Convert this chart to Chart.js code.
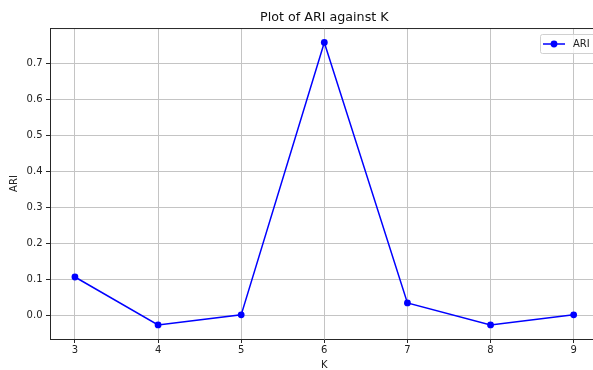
<!DOCTYPE html>
<html>
<head>
<meta charset="utf-8">
<script src="https://cdn.jsdelivr.net/npm/chart.js@4/dist/chart.umd.min.js"></script>
<style>
  html, body { margin: 0; padding: 0; background: #fff; overflow: hidden; }
  #wrap { width: 593px; height: 370px; overflow: hidden; }
</style>
</head>
<body>
<div id="wrap"><canvas id="chart" width="602" height="370"></canvas></div>
<script>
// data
const kValues = [3, 4, 5, 6, 7, 8, 9];
const ariValues = [0.107, -0.026, 0.002, 0.758, 0.035, -0.026, 0.002];
const yTickValues = [0.0, 0.1, 0.2, 0.3, 0.4, 0.5, 0.6, 0.7];

const FONT = "'DejaVu Sans', sans-serif";
const lineColor = "#0000ff";

// top/right spines + boxed legend, matplotlib style
const framePlugin = {
    id: "frame",
    afterDraw(chart) {
        const ctx = chart.ctx;
        const a = chart.chartArea;
        ctx.save();
        ctx.strokeStyle = "#262626";
        ctx.lineWidth = 1;
        ctx.beginPath();
        ctx.moveTo(a.left, a.top + 0.5);
        ctx.lineTo(a.right, a.top + 0.5);
        ctx.moveTo(a.right - 0.5, a.top);
        ctx.lineTo(a.right - 0.5, a.bottom);
        ctx.stroke();

        // legend
        const ds = chart.data.datasets[0];
        const bx = 540.5, by = 34.5, bw = 70, bh = 19;
        ctx.fillStyle = "rgba(255,255,255,0.8)";
        ctx.strokeStyle = "#d0d0d0";
        ctx.beginPath();
        ctx.roundRect(bx, by, bw, bh, 2);
        ctx.fill();
        ctx.stroke();

        const cy = by + bh / 2;
        ctx.strokeStyle = ds.borderColor;
        ctx.lineWidth = 1.5;
        ctx.beginPath();
        ctx.moveTo(543, cy);
        ctx.lineTo(565, cy);
        ctx.stroke();
        ctx.fillStyle = ds.backgroundColor;
        ctx.beginPath();
        ctx.arc(554, cy, 3.4, 0, Math.PI * 2);
        ctx.fill();

        ctx.fillStyle = "#222";
        ctx.font = "10px " + FONT;
        ctx.textBaseline = "middle";
        ctx.textAlign = "left";
        ctx.fillText(ds.label, 573, cy + 0.5);
        ctx.restore();
    }
};

new Chart(document.getElementById("chart"), {
    type: "line",
    data: {
        datasets: [{
            label: "ARI",
            data: kValues.map((k, i) => ({ x: k, y: ariValues[i] })),
            borderColor: lineColor,
            backgroundColor: lineColor,
            borderWidth: 1.5,
            pointRadius: 3.4,
            pointHoverRadius: 3.4,
            pointBorderWidth: 0,
            tension: 0,
            clip: false
        }]
    },
    options: {
        responsive: false,
        animation: false,
        events: [],
        layout: { padding: 0 },
        plugins: {
            legend: { display: false },
            tooltip: { enabled: false },
            title: {
                display: true,
                text: "Plot of ARI against K",
                fullSize: false,
                color: "#111",
                font: { family: FONT, size: 12.7, weight: "normal", lineHeight: 1.2 },
                padding: { top: 10, bottom: 2.8 }
            }
        },
        scales: {
            x: {
                type: "linear",
                min: 2.7,
                max: 9.3,
                afterBuildTicks: (scale) => { scale.ticks = kValues.map(v => ({ value: v })); },
                afterFit: (scale) => { scale.height = 31; },
                ticks: {
                    autoSkip: false,
                    maxRotation: 0,
                    padding: 1.5,
                    color: "#222",
                    font: { family: FONT, size: 10 },
                    callback: (v) => String(v)
                },
                grid: {
                    color: "#c4c4c4",
                    lineWidth: 1,
                    tickLength: 4,
                    tickColor: "#262626"
                },
                border: { color: "#262626", width: 1 },
                title: {
                    display: true,
                    text: "K",
                    color: "#222",
                    font: { family: FONT, size: 10, lineHeight: 1 },
                    padding: { top: 0, bottom: 0 }
                }
            },
            y: {
                type: "linear",
                min: -0.065,
                max: 0.798,
                afterBuildTicks: (scale) => { scale.ticks = yTickValues.map(v => ({ value: v })); },
                afterFit: (scale) => { scale.width = 50; },
                ticks: {
                    padding: 3.5,
                    color: "#222",
                    font: { family: FONT, size: 10 },
                    callback: (v) => v.toFixed(1)
                },
                grid: {
                    color: "#c4c4c4",
                    lineWidth: 1,
                    tickLength: 4,
                    tickColor: "#262626"
                },
                border: { color: "#262626", width: 1 },
                title: {
                    display: true,
                    text: "ARI",
                    color: "#222",
                    font: { family: FONT, size: 10, lineHeight: 1.2 },
                    padding: { top: 8, bottom: 0 }
                }
            }
        }
    },
    plugins: [framePlugin]
});
</script>
</body>
</html>
